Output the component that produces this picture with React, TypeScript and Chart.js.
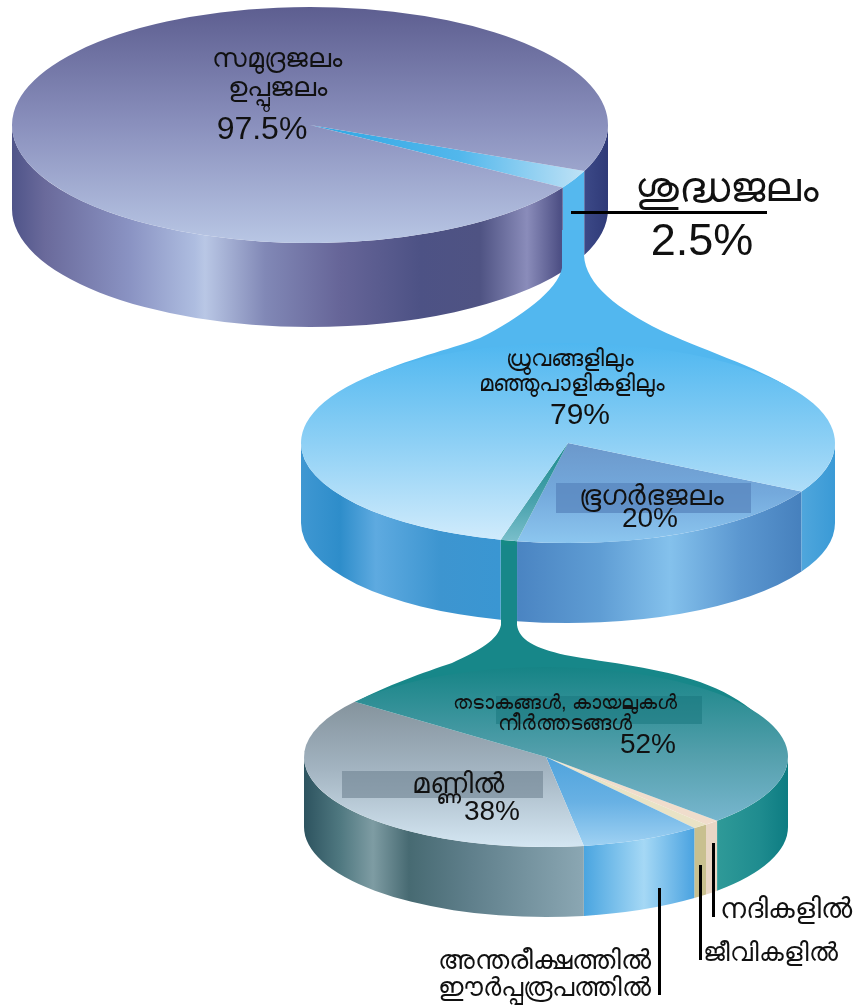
import React, { useEffect, useRef } from "react";
import { Chart, registerables } from "chart.js";

Chart.register(...registerables);

// ---- data ----
const oceanLabels = ["ശുദ്ധജലം", "സമുദ്രജലം ഉപ്പുജലം"];
const oceanValues = [2.5, 97.5];
const freshLabels = ["ഭൂഗർഭജലം", "ഉപരിതലജലം", "ധ്രുവങ്ങളിലും മഞ്ഞുപാളികളിലും"];
const freshValues = [20, 1, 79];
const surfaceLabels = ["നദികളിൽ", "ജീവികളിൽ", "അന്തരീക്ഷത്തിൽ ഈർപ്പരൂപത്തിൽ", "മണ്ണിൽ", "തടാകങ്ങൾ, കായലുകൾ നീർത്തടങ്ങൾ"];
const surfaceValues = [1, 1, 8, 38, 52];

// ---- styles ----
type Stops = [number, string][];
type Face = { dir: "v" | "h"; stops: Stops };
type Pie = {
  labels: string[];
  values: number[];
  rotation: number;
  cx: number;
  cy: number;
  rx: number;
  ry: number;
  depth: number;
  faces: Face[];
  walls: Stops[];
  link?: { path: string; color: string };
};

const pies: Pie[] = [
  {
    labels: oceanLabels,
    values: oceanValues,
    rotation: 113,
    cx: 310,
    cy: 125,
    rx: 298,
    ry: 118,
    depth: 84,
    faces: [
      { dir: "h", stops: [[0.5, "#2fa6e2"], [0.75, "#52b7ec"], [0.97, "#c4e4f6"]] },
      { dir: "v", stops: [[0, "#5d5e90"], [0.5, "#8a90bd"], [1, "#b8c6e4"]] },
    ],
    walls: [
      [[560, "#55b8ee"], [585, "#55b8ee"]],
      [
        [11, "#4f5489"], [45, "#6a6a9b"], [130, "#8a93c3"], [195, "#aebde0"], [205, "#b9c7e5"],
        [265, "#8188b6"], [340, "#666598"], [420, "#4d5285"], [480, "#4f5383"], [527, "#8a8cba"],
        [560, "#4e5085"], [583, "#3d4a88"], [608, "#2f3a78"],
      ],
    ],
  },
  {
    labels: freshLabels,
    values: freshValues,
    rotation: 119,
    cx: 568,
    cy: 443,
    rx: 267,
    ry: 100,
    depth: 80,
    faces: [
      { dir: "v", stops: [[0.45, "#6a95c8"], [0.75, "#74a9dc"], [1, "#8cc6ef"]] },
      { dir: "v", stops: [[0.5, "#1a8a8c"], [0.8, "#4ba3ae"], [1, "#7cc0cc"]] },
      { dir: "v", stops: [[0, "#4fb7f0"], [0.5, "#8ed0f5"], [1, "#d2ecfc"]] },
    ],
    walls: [
      [[517, "#4a84c2"], [600, "#5f9dd4"], [670, "#84c1ec"], [740, "#5b97d0"], [802, "#4680bd"]],
      [[500, "#168a85"], [517, "#168a85"]],
      [
        [301, "#3f97d2"], [340, "#2e8dca"], [376, "#5eaae0"], [440, "#3d95d0"], [500, "#3a96d2"],
        [802, "#4fa6dc"], [835, "#3a9ad6"],
      ],
    ],
    link: {
      path: "M562,230 L562,268 C558,290 520,318 480,338 C455,348 420,355 370,376 L790,388 C760,368 695,347 660,330 C620,310 585,285 584,255 L584,230 Z",
      color: "#52b7ef",
    },
  },
  {
    labels: surfaceLabels,
    values: surfaceValues,
    rotation: 135,
    cx: 546,
    cy: 757,
    rx: 242,
    ry: 90,
    depth: 70,
    faces: [
      { dir: "v", stops: [[0, "#f0ddcc"], [1, "#f0ddcc"]] },
      { dir: "v", stops: [[0, "#e9e3c6"], [1, "#e9e3c6"]] },
      { dir: "v", stops: [[0.5, "#4fa3dc"], [0.75, "#68b1e4"], [1, "#a0d2f3"]] },
      { dir: "v", stops: [[0.1, "#7d8b94"], [0.55, "#a1b2bf"], [1, "#d4e6f2"]] },
      { dir: "v", stops: [[0, "#168486"], [0.5, "#55a0ad"], [1, "#85bfdb"]] },
    ],
    walls: [
      [[707, "#e8d6c5"], [717, "#e8d6c5"]],
      [[695, "#c8c08f"], [707, "#c8c08f"]],
      [[584, "#4aa5e0"], [644, "#a5d8f5"], [695, "#49a2e0"]],
      [[305, "#2e5460"], [340, "#4f7880"], [373, "#7e9ca3"], [409, "#476a72"], [470, "#5f7f8b"], [584, "#8ba7b3"]],
      [[717, "#2f9a98"], [759, "#1f8c8f"], [788, "#0d7c82"]],
    ],
    link: {
      path: "M501,545 L501,625 C498,640 480,650 452,663 C425,672 385,686 356,702 L788,757 C775,725 745,698 700,682 C660,668 610,663 565,655 C535,648 519,640 517,625 L517,545 Z",
      color: "#178789",
    },
  },
];

function makeFace(chart: any, face: Face) {
  const ax = chart.width / 2;
  const ay = chart.height / 2;
  const R = Math.min(chart.width, chart.height) / 2;
  const g =
    face.dir === "v"
      ? chart.ctx.createLinearGradient(0, ay - R, 0, ay + R)
      : chart.ctx.createLinearGradient(ax - R, 0, ax + R, 0);
  face.stops.forEach(([t, c]) => g.addColorStop(t, c));
  return g;
}

function piePlugin(pie: Pie) {
  return {
    id: "tilt",
    beforeDatasetsDraw(chart: any) {
      const ctx: CanvasRenderingContext2D = chart.ctx;
      const { cx, cy, rx, ry, depth } = pie;
      if (pie.link) {
        ctx.fillStyle = pie.link.color;
        ctx.fill(new Path2D(pie.link.path));
      }
      const arcs = chart.getDatasetMeta(0).data;
      arcs.forEach((arc: any, i: number) => {
        const stops = pie.walls[i];
        const g = ctx.createLinearGradient(cx - rx, 0, cx + rx, 0);
        stops.forEach(([x, c]) => g.addColorStop(Math.min(1, Math.max(0, (x - cx + rx) / (2 * rx))), c));
        ctx.fillStyle = g;
        for (let k = -1; k <= 1; k++) {
          const lo = 2 * Math.PI * k;
          const a = Math.max(arc.startAngle, lo);
          const b = Math.min(arc.endAngle, lo + Math.PI);
          if (a < b) {
            ctx.beginPath();
            ctx.ellipse(cx, cy, rx, ry, 0, a, b, false);
            ctx.ellipse(cx, cy + depth, rx, ry, 0, b, a, true);
            ctx.closePath();
            ctx.fill();
          }
        }
      });
      const first = arcs[0];
      const R = first.outerRadius;
      ctx.save();
      ctx.translate(cx, cy);
      ctx.scale(rx / R, ry / R);
      ctx.translate(-first.x, -first.y);
    },
    afterDatasetsDraw(chart: any) {
      chart.ctx.restore();
    },
  };
}

const FONT = '"Liberation Sans", "Noto Sans", sans-serif';

type Txt = { t: string; x: number; y: number; s: number };
const texts: Txt[] = [
  { t: "സമുദ്രജലം", x: 277, y: 58, s: 27 },
  { t: "ഉപ്പുജലം", x: 277, y: 87, s: 26.5 },
  { t: "97.5%", x: 262, y: 128, s: 32 },
  { t: "ശുദ്ധജലം", x: 727, y: 187, s: 42 },
  { t: "2.5%", x: 702, y: 240, s: 45 },
  { t: "ധ്രുവങ്ങളിലും", x: 570, y: 358, s: 22.5 },
  { t: "മഞ്ഞുപാളികളിലും", x: 572, y: 383, s: 22.5 },
  { t: "79%", x: 580, y: 414, s: 30 },
  { t: "ഭൂഗർഭജലം", x: 651, y: 495, s: 27.5 },
  { t: "20%", x: 650, y: 518, s: 28 },
  { t: "തടാകങ്ങൾ, കായലുകൾ", x: 565, y: 702, s: 20 },
  { t: "നീർത്തടങ്ങൾ", x: 565, y: 723, s: 21 },
  { t: "52%", x: 648, y: 744, s: 28 },
  { t: "മണ്ണിൽ", x: 458, y: 783, s: 27.5 },
  { t: "38%", x: 492, y: 811, s: 28 },
  { t: "നദികളിൽ", x: 786, y: 908, s: 27.5 },
  { t: "ജീവികളിൽ", x: 770, y: 952, s: 26 },
  { t: "അന്തരീക്ഷത്തിൽ", x: 544, y: 960, s: 27 },
  { t: "ഈർപ്പരൂപത്തിൽ", x: 544, y: 987, s: 25.5 },
];

const boxes = [
  { x: 556, y: 483, w: 195, h: 30, c: "rgba(88,134,190,0.75)" },
  { x: 496, y: 696, w: 206, h: 28, c: "rgba(25,118,125,0.55)" },
  { x: 342, y: 771, w: 201, h: 27, c: "rgba(110,130,145,0.6)" },
];

const rules = [
  { x: 571, y: 211, w: 196, h: 3 },
  { x: 712, y: 843, w: 3, h: 74 },
  { x: 699, y: 865, w: 3, h: 95 },
  { x: 658, y: 888, w: 3, h: 107 },
];

export default function App() {
  const refs = useRef<(HTMLCanvasElement | null)[]>([]);

  useEffect(() => {
    const charts = pies.map((pie, i) => {
      const plugin = piePlugin(pie);
      return new Chart(refs.current[i] as HTMLCanvasElement, {
        type: "pie",
        data: {
          labels: pie.labels,
          datasets: [
            {
              data: pie.values,
              borderWidth: 0,
              backgroundColor: (c: any) => makeFace(c.chart, pie.faces[c.dataIndex]),
            } as any,
          ],
        },
        options: {
          animation: false,
          responsive: false,
          rotation: pie.rotation,
          layout: { padding: 0 },
          plugins: { legend: { display: false }, tooltip: { enabled: false }, title: { display: false } },
          events: [],
        } as any,
        plugins: [plugin as any],
      });
    });
    return () => charts.forEach((c) => c.destroy());
  }, []);

  const abs: React.CSSProperties = { position: "absolute", left: 0, top: 0 };
  return (
    <div style={{ ...abs, width: 856, height: 1005, background: "#fff", overflow: "hidden", fontFamily: FONT }}>
      {pies.map((_, i) => (
        <div key={i} style={{ ...abs, width: 856, height: 1005 }}>
          <canvas ref={(el) => { refs.current[i] = el; }} width={856} height={1005} />
        </div>
      ))}
      {boxes.map((b, i) => (
        <div key={i} style={{ position: "absolute", left: b.x, top: b.y, width: b.w, height: b.h, background: b.c }} />
      ))}
      {rules.map((r, i) => (
        <div key={i} style={{ position: "absolute", left: r.x, top: r.y, width: r.w, height: r.h, background: "#000" }} />
      ))}
      {texts.map((t, i) => (
        <div
          key={i}
          style={{
            position: "absolute",
            left: t.x - 200,
            top: t.y - t.s,
            width: 400,
            height: t.s * 2,
            lineHeight: `${t.s * 2}px`,
            textAlign: "center",
            fontSize: t.s,
            color: "#111",
            whiteSpace: "nowrap",
          }}
        >
          {t.t}
        </div>
      ))}
    </div>
  );
}
